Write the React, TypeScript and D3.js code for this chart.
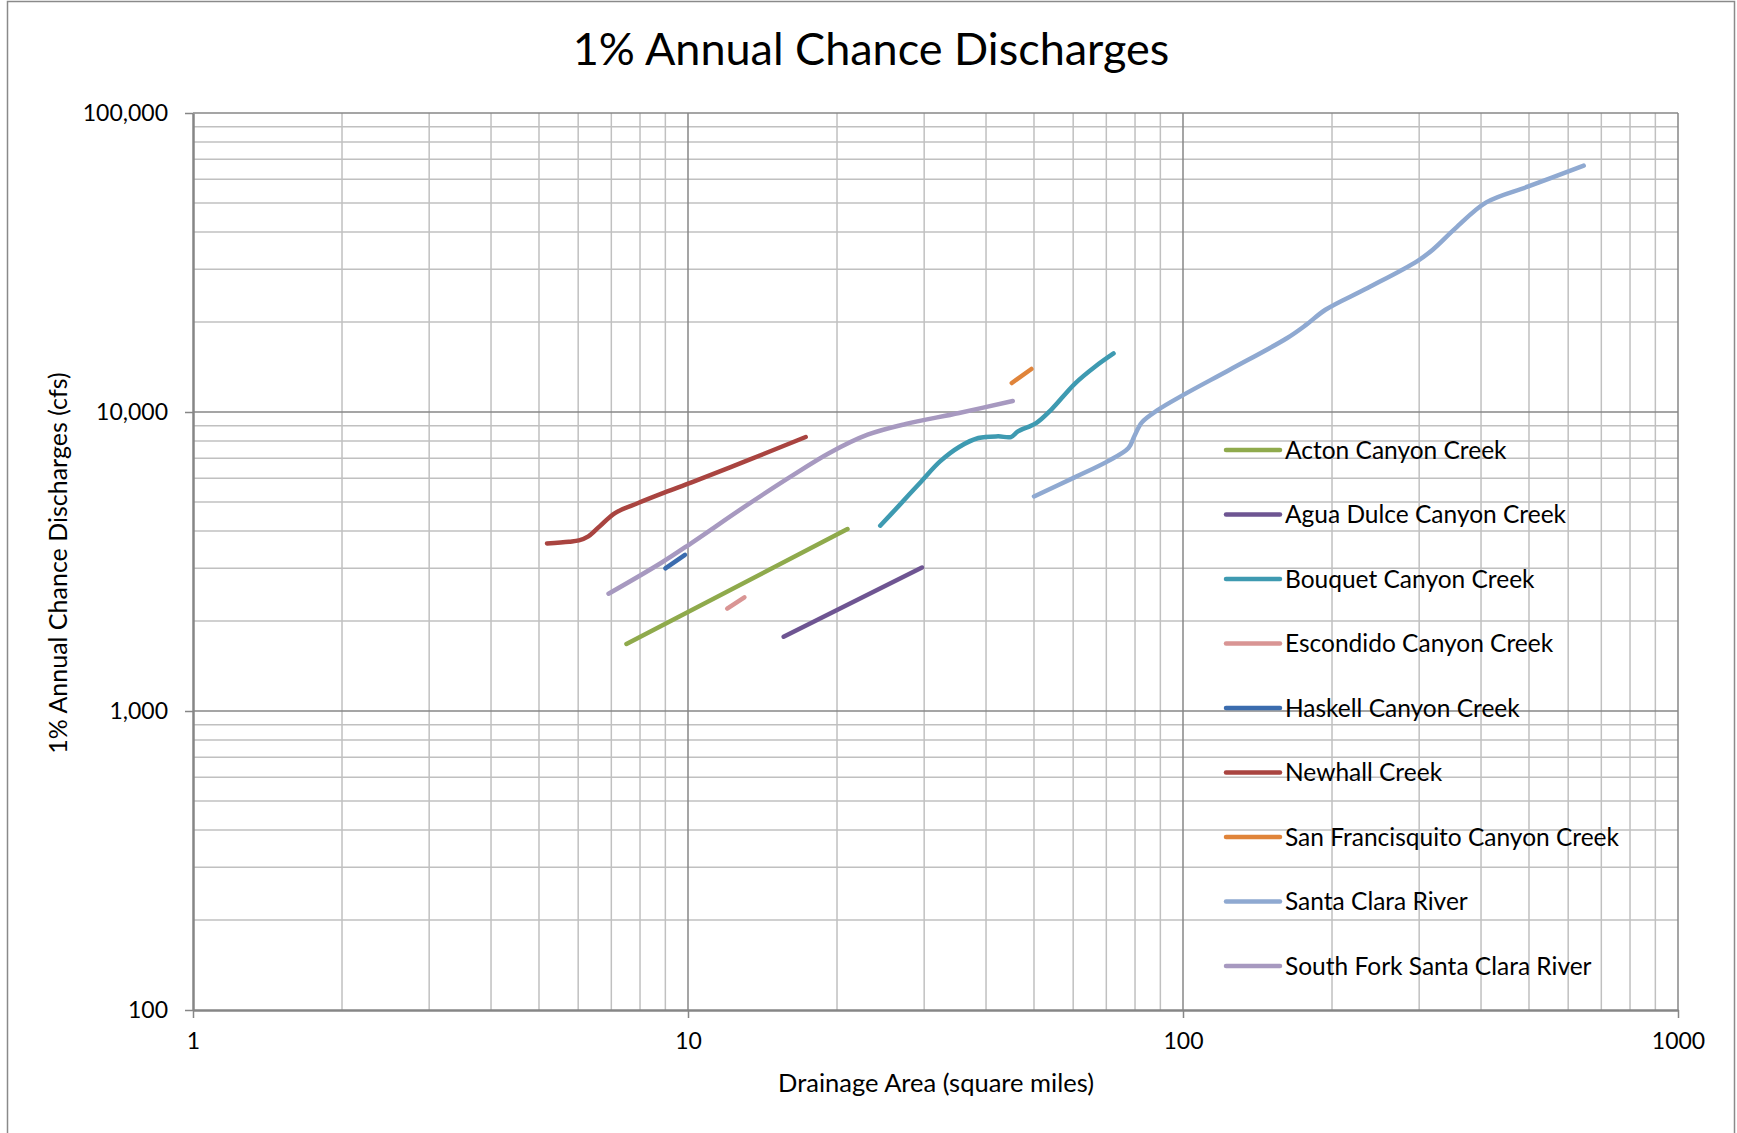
import { axisBottom, axisLeft, curveCatmullRom, format, line, scaleLog, select } from "d3";
import { useEffect, useRef } from "react";

// [drainage area (sq mi), discharge (cfs)]
const acton: [number, number][] = [[7.51, 1675], [21.0, 4060]];
const aguaDulce: [number, number][] = [[15.6, 1772], [29.7, 3020]];
const bouquet: [number, number][] = [
  [24.45, 4166], [26.6, 4834], [29.6, 5860], [32.3, 6836], [35.3, 7640], [38.6, 8185],
  [42.3, 8290], [44.9, 8247], [46.4, 8610], [50.5, 9180], [54.2, 10190], [60.5, 12450],
  [66.5, 14200], [72.4, 15700],
];
const escondido: [number, number][] = [[12.0, 2200], [13.0, 2400]];
const haskell: [number, number][] = [[9.0, 3000], [9.86, 3330]];
const newhall: [number, number][] = [
  [5.19, 3635], [5.75, 3683], [6.02, 3720], [6.29, 3837], [6.63, 4144], [7.12, 4593],
  [7.93, 4962], [8.98, 5384], [10.17, 5817], [13.04, 6836], [17.29, 8250],
];
const sanFrancisquito: [number, number][] = [[45.1, 12500], [49.4, 13930]];
const santaClara: [number, number][] = [
  [50.0, 5220], [61.0, 6090], [70.4, 6836], [77.6, 7577], [79.7, 8286], [82.6, 9230],
  [88.7, 10125], [100.4, 11430], [124.3, 13850], [162.4, 17680], [177.5, 19590], [194, 21980],
  [236, 25980], [297, 31900], [319.5, 34900], [355.4, 41200], [409.8, 50240], [498.5, 56800],
  [645, 66650],
];
const southFork: [number, number][] = [
  [6.91, 2467], [8.82, 3126], [10.16, 3646], [13.04, 4834], [16.15, 6090], [19.3, 7294],
  [23.06, 8395], [27.55, 9120], [35.3, 9925], [45.3, 10885],
];

const seriesNames = [
  "Acton Canyon Creek",
  "Agua Dulce Canyon Creek",
  "Bouquet Canyon Creek",
  "Escondido Canyon Creek",
  "Haskell Canyon Creek",
  "Newhall Creek",
  "San Francisquito Canyon Creek",
  "Santa Clara River",
  "South Fork Santa Clara River",
];
const seriesData = [acton, aguaDulce, bouquet, escondido, haskell, newhall, sanFrancisquito, santaClara, southFork];
const colors = ["#8FAA4C", "#6E5592", "#3E9AB1", "#D99594", "#3B6CAE", "#A94440", "#E0843A", "#8FA9D1", "#A799C0"];

const xTicks = [1, 10, 100, 1000];
const yTicks = [100, 1000, 10000, 100000];

const FONT = "Lato, 'Open Sans', sans-serif";

export default function App() {
  const width = 1737;
  const height = 1133;
  const marginLeft = 193;
  const marginRight = 59;
  const marginTop = 113;
  const marginBottom = 123;

  const gx = useRef(null);
  const gy = useRef(null);

  const x = scaleLog([1, 1000], [marginLeft, width - marginRight]);
  const y = scaleLog([100, 100000], [height - marginBottom, marginTop]);

  const minorX: number[] = [];
  for (const d of [1, 10, 100]) for (let k = 2; k <= 9; k++) minorX.push(d * k);
  const minorY: number[] = [];
  for (const d of [100, 1000, 10000]) for (let k = 2; k <= 9; k++) minorY.push(d * k);

  const lineGen = line<[number, number]>()
    .x((d) => x(d[0]))
    .y((d) => y(d[1]))
    .curve(curveCatmullRom.alpha(0.5));

  useEffect(() => {
    const g = select(gx.current);
    g.call(
      axisBottom(x).tickValues(xTicks).tickFormat((d: any) => String(d)).tickSize(8).tickSizeOuter(0).tickPadding(15) as any
    );
    g.select(".domain").attr("stroke", "#868686").attr("stroke-width", 2.5);
    g.selectAll(".tick line").attr("stroke", "#868686").attr("stroke-width", 1.5);
    g.selectAll(".tick text").attr("font-family", FONT).attr("font-size", 23).attr("fill", "#000");
  }, [gx, x]);

  useEffect(() => {
    const g = select(gy.current);
    g.call(
      axisLeft(y).tickValues(yTicks).tickFormat(format(",") as any).tickSize(8).tickSizeOuter(0).tickPadding(17) as any
    );
    g.select(".domain").attr("stroke", "#868686").attr("stroke-width", 2.5);
    g.selectAll(".tick line").attr("stroke", "#868686").attr("stroke-width", 1.5);
    g.selectAll(".tick text").attr("font-family", FONT).attr("font-size", 23).attr("fill", "#000");
  }, [gy, y]);

  const legendX = 1226;
  const legendY = 450;
  const legendStep = 64.5;

  return (
    <svg
      width={width}
      height={height}
      style={{ position: "absolute", left: 0, top: 0, background: "#fff" }}
      fontFamily={FONT}
    >
      <rect x={7.5} y={1.5} width={1727} height={1140} fill="#fff" stroke="#8a8a8a" strokeWidth={1.5} />
      <text x={871} y={65} textAnchor="middle" fontSize={45} fill="#000">
        1% Annual Chance Discharges
      </text>

      <g stroke="#c0c0c0" strokeWidth={1.5}>
        {minorX.map((v) => (
          <line key={"mx" + v} x1={x(v)} x2={x(v)} y1={marginTop} y2={height - marginBottom} />
        ))}
        {minorY.map((v) => (
          <line key={"my" + v} x1={marginLeft} x2={width - marginRight} y1={y(v)} y2={y(v)} />
        ))}
      </g>
      <g stroke="#878787" strokeWidth={1.5}>
        {xTicks.slice(1).map((v) => (
          <line key={"Mx" + v} x1={x(v)} x2={x(v)} y1={marginTop} y2={height - marginBottom} />
        ))}
        {yTicks.slice(1).map((v) => (
          <line key={"My" + v} x1={marginLeft} x2={width - marginRight} y1={y(v)} y2={y(v)} />
        ))}
      </g>

      <g ref={gx} transform={`translate(0,${height - marginBottom})`} />
      <g ref={gy} transform={`translate(${marginLeft},0)`} />

      <g fill="none" strokeWidth={4.5} strokeLinecap="round" strokeLinejoin="round">
        {seriesData.map((s, i) => (
          <path key={seriesNames[i]} d={lineGen(s) ?? ""} stroke={colors[i]} />
        ))}
      </g>

      <g>
        {seriesNames.map((name, i) => (
          <g key={name} transform={`translate(${legendX},${legendY + i * legendStep})`}>
            <line x1={0} x2={54} y1={0} y2={0} stroke={colors[i]} strokeWidth={4.5} strokeLinecap="round" />
            <text x={59} y={0} dy="0.35em" fontSize={24.5} fill="#000">
              {name}
            </text>
          </g>
        ))}
      </g>

      <text x={936} y={1083} dy="0.35em" textAnchor="middle" fontSize={25.5} fill="#000">
        Drainage Area (square miles)
      </text>
      <text transform="translate(58,563) rotate(-90)" dy="0.35em" textAnchor="middle" fontSize={25} fill="#000">
        1% Annual Chance Discharges (cfs)
      </text>
    </svg>
  );
}
